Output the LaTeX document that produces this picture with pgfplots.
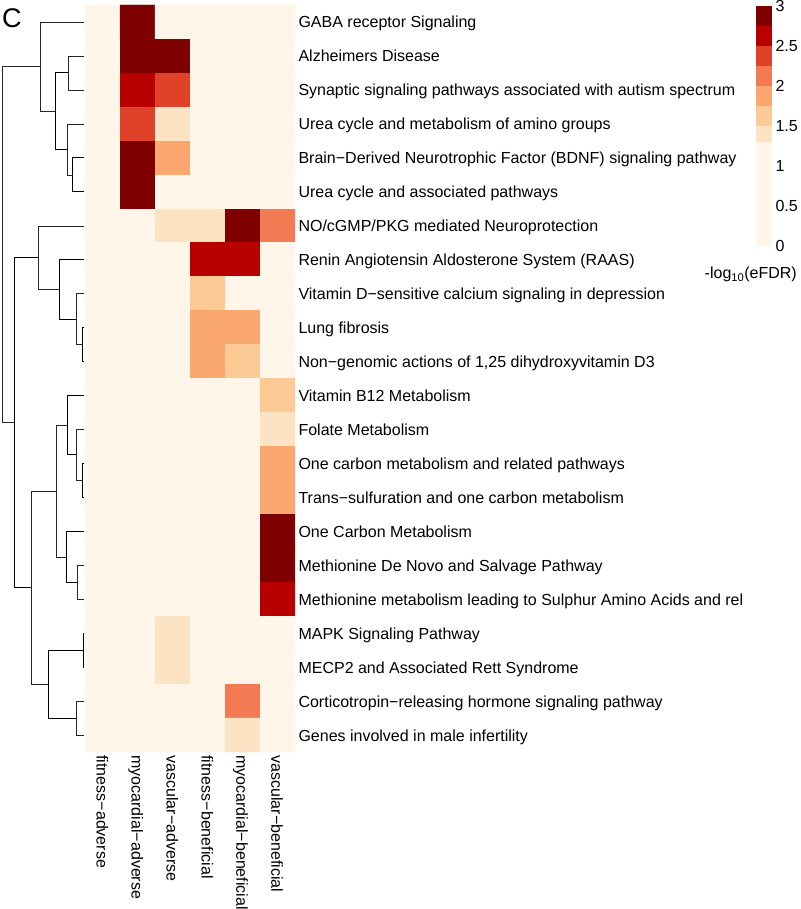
\documentclass[border=0pt]{standalone}
\usepackage{fontspec}
\setmainfont{Liberation Sans}
\usepackage{pgfplots}
\pgfplotsset{compat=1.18}
\usepackage{pgfplotstable}

% OrRd-like bins: <1.3, 1.3-1.5, then steps of 0.25 up to 3
\definecolor{b0}{HTML}{FFF5E9}
\definecolor{b1}{HTML}{FCE3C3}
\definecolor{b2}{HTML}{FCCB95}
\definecolor{b3}{HTML}{FAA870}
\definecolor{b4}{HTML}{F37A53}
\definecolor{b5}{HTML}{DF4129}
\definecolor{b6}{HTML}{B80000}
\definecolor{b7}{HTML}{7F0000}

% -log10(eFDR); columns: 0 fitness-adverse .. 5 vascular-beneficial
\pgfplotstableread{
col row v
0 1 0
1 1 3
2 1 0
3 1 0
4 1 0
5 1 0
0 2 0
1 2 3
2 2 3
3 2 0
4 2 0
5 2 0
0 3 0
1 3 2.6
2 3 2.4
3 3 0
4 3 0
5 3 0
0 4 0
1 4 2.4
2 4 1.4
3 4 0
4 4 0
5 4 0
0 5 0
1 5 3
2 5 1.8
3 5 0
4 5 0
5 5 0
0 6 0
1 6 3
2 6 0
3 6 0
4 6 0
5 6 0
0 7 0
1 7 0
2 7 1.4
3 7 1.4
4 7 3
5 7 2.1
0 8 0
1 8 0
2 8 0
3 8 2.6
4 8 2.6
5 8 0
0 9 0
1 9 0
2 9 0
3 9 1.6
4 9 0
5 9 0
0 10 0
1 10 0
2 10 0
3 10 1.8
4 10 1.8
5 10 0
0 11 0
1 11 0
2 11 0
3 11 1.8
4 11 1.6
5 11 0
0 12 0
1 12 0
2 12 0
3 12 0
4 12 0
5 12 1.6
0 13 0
1 13 0
2 13 0
3 13 0
4 13 0
5 13 1.4
0 14 0
1 14 0
2 14 0
3 14 0
4 14 0
5 14 1.8
0 15 0
1 15 0
2 15 0
3 15 0
4 15 0
5 15 1.8
0 16 0
1 16 0
2 16 0
3 16 0
4 16 0
5 16 3
0 17 0
1 17 0
2 17 0
3 17 0
4 17 0
5 17 3
0 18 0
1 18 0
2 18 0
3 18 0
4 18 0
5 18 2.6
0 19 0
1 19 0
2 19 1.4
3 19 0
4 19 0
5 19 0
0 20 0
1 20 0
2 20 1.4
3 20 0
4 20 0
5 20 0
0 21 0
1 21 0
2 21 0
3 21 0
4 21 2.1
5 21 0
0 22 0
1 22 0
2 22 0
3 22 0
4 22 1.4
5 22 0
}\heat

\newcommand{\lab}{\fontsize{16}{18}\selectfont}

\begin{document}
\begin{tikzpicture}
\useasboundingbox (0,0) rectangle (800pt,909pt);

\node[anchor=base west, font=\fontsize{27}{30}\selectfont, inner sep=0pt] at (2pt,881pt) {C};

% dendrogram (x in pixels from left, y in rows)
\begin{axis}[
    at={(0pt,157pt)}, anchor=south west,
    width=85pt, height=747pt, scale only axis,
    xmin=0, xmax=85, ymin=0.5, ymax=22.5, y dir=reverse,
    hide axis, clip=false,
]
\pgfplotsset{cycle list={{black!85, line width=0.9pt}}}
\addplot coordinates {(84,2) (68,2) (68,3) (84,3)};
\addplot coordinates {(84,5) (72.7,5) (72.7,6) (84,6)};
\addplot coordinates {(84,4) (66.7,4) (66.7,5.5) (72.7,5.5)};
\addplot coordinates {(68,2.5) (55,2.5) (55,4.75) (66.7,4.75)};
\addplot coordinates {(84,1) (40,1) (40,3.625) (55,3.625)};
\addplot coordinates {(84,10) (82.7,10) (82.7,11) (84,11)};
\addplot coordinates {(84,9) (76,9) (76,10.5) (82.7,10.5)};
\addplot coordinates {(84,8) (59,8) (59,9.75) (76,9.75)};
\addplot coordinates {(84,7) (38,7) (38,8.875) (59,8.875)};
\addplot coordinates {(84,14) (82.7,14) (82.7,15) (84,15)};
\addplot coordinates {(84,13) (76,13) (76,14.5) (82.7,14.5)};
\addplot coordinates {(84,12) (67,12) (67,13.75) (76,13.75)};
\addplot coordinates {(84,17) (77,17) (77,18) (84,18)};
\addplot coordinates {(84,16) (66,16) (66,17.5) (77,17.5)};
\addplot coordinates {(67,12.875) (56,12.875) (56,16.75) (66,16.75)};
\addplot coordinates {(84,19) (83,19) (83,20) (84,20)};
\addplot coordinates {(84,21) (76,21) (76,22) (84,22)};
\addplot coordinates {(83,19.5) (48,19.5) (48,21.5) (76,21.5)};
\addplot coordinates {(56,14.81) (31,14.81) (31,20.5) (48,20.5)};
\addplot coordinates {(38,7.94) (14,7.94) (14,17.66) (31,17.66)};
\addplot coordinates {(40,2.31) (2,2.31) (2,12.8) (14,12.8)};
\end{axis}

% heatmap
\begin{axis}[
    at={(85pt,157pt)}, anchor=south west,
    width=210pt, height=747pt, scale only axis,
    xmin=-0.5, xmax=5.5, ymin=0.5, ymax=22.5, y dir=reverse,
    axis line style={draw=none}, major tick length=0pt,
    xtick={0,...,5},
    xticklabels={fitness−adverse, myocardial−adverse, vascular−adverse,
        fitness−beneficial, myocardial−beneficial, vascular−beneficial},
    xticklabel style={rotate=-90, anchor=west, font=\lab, text height=12pt, text depth=0pt},
    ytick={1,...,22},
    yticklabels={
        GABA receptor Signaling,
        Alzheimers Disease,
        Synaptic signaling pathways associated with autism spectrum,
        Urea cycle and metabolism of amino groups,
        Brain−Derived Neurotrophic Factor (BDNF) signaling pathway,
        Urea cycle and associated pathways,
        NO/cGMP/PKG mediated Neuroprotection,
        Renin Angiotensin Aldosterone System (RAAS),
        Vitamin D−sensitive calcium signaling in depression,
        Lung fibrosis,
        {Non−genomic actions of 1,25 dihydroxyvitamin D3},
        Vitamin B12 Metabolism,
        Folate Metabolism,
        One carbon metabolism and related pathways,
        Trans−sulfuration and one carbon metabolism,
        One Carbon Metabolism,
        Methionine De Novo and Salvage Pathway,
        Methionine metabolism leading to Sulphur Amino Acids and rel,
        MAPK Signaling Pathway,
        MECP2 and Associated Rett Syndrome,
        Corticotropin−releasing hormone signaling pathway,
        Genes involved in male infertility},
    yticklabel pos=right,
    yticklabel style={anchor=west, font=\lab, text height=12pt, text depth=0pt},
    colormap={orrd}{color=(b0) color=(b1) color=(b2) color=(b3) color=(b4) color=(b5) color=(b6) color=(b7)},
    colormap access=direct,
]
\addplot[matrix plot*, mesh/cols=6, mesh/ordering=x varies,
    point meta={\thisrow{v}<1.3 ? 0 : (\thisrow{v}<1.5 ? 1 : min(7,floor((\thisrow{v}-1.5)/0.25)+2))}]
    table[x=col, y=row] {\heat};
\end{axis}

% colour key
\begin{axis}[
    at={(756pt,663pt)}, anchor=south west,
    width=16pt, height=240pt, scale only axis,
    xmin=0, xmax=1, ymin=0, ymax=3,
    axis line style={draw=none}, major tick length=0pt,
    xtick=\empty,
    ytick={0,0.5,1,1.5,2,2.5,3},
    yticklabels={0,0.5,1,1.5,2,2.5,3},
    yticklabel pos=right,
    yticklabel style={anchor=west, font=\lab, text height=12pt, text depth=0pt},
]
\addplot[fill=b0, draw=none] coordinates {(0,0) (1,0) (1,1.3) (0,1.3)} -- cycle;
\addplot[fill=b1, draw=none] coordinates {(0,1.3) (1,1.3) (1,1.5) (0,1.5)} -- cycle;
\addplot[fill=b2, draw=none] coordinates {(0,1.5) (1,1.5) (1,1.75) (0,1.75)} -- cycle;
\addplot[fill=b3, draw=none] coordinates {(0,1.75) (1,1.75) (1,2) (0,2)} -- cycle;
\addplot[fill=b4, draw=none] coordinates {(0,2) (1,2) (1,2.25) (0,2.25)} -- cycle;
\addplot[fill=b5, draw=none] coordinates {(0,2.25) (1,2.25) (1,2.5) (0,2.5)} -- cycle;
\addplot[fill=b6, draw=none] coordinates {(0,2.5) (1,2.5) (1,2.75) (0,2.75)} -- cycle;
\addplot[fill=b7, draw=none] coordinates {(0,2.75) (1,2.75) (1,3) (0,3)} -- cycle;
\end{axis}

\node[anchor=base east, font=\lab, inner sep=0pt] at (797pt,630pt) {-log\textsubscript{10}(eFDR)};
\end{tikzpicture}
\end{document}
